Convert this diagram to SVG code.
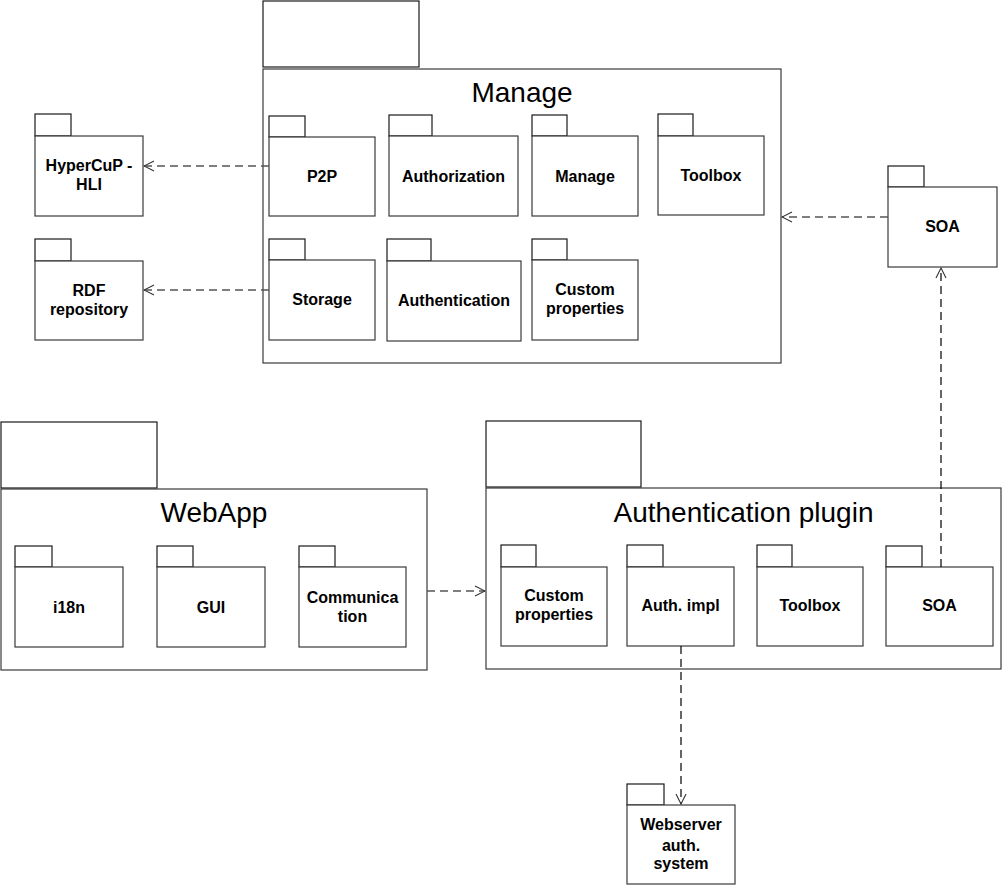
<svg xmlns="http://www.w3.org/2000/svg" width="1006" height="886" viewBox="0 0 1006 886">
<defs>
<style>
.box{fill:#fff;stroke:#3a3a3a;stroke-width:1.2}
.tab{fill:#fff;stroke:#1a1a1a;stroke-width:1.2}
.lbl{font-family:"Liberation Sans",Arial,sans-serif;font-weight:bold;font-size:16px;fill:#000;text-anchor:middle}
.ttl{font-family:"Liberation Sans",Arial,sans-serif;font-size:28px;fill:#000;text-anchor:middle}
.dep{fill:none;stroke:#555;stroke-width:1.3;stroke-dasharray:8 5}
.depv{fill:none;stroke:#000;stroke-width:1.2;stroke-dasharray:8 5}
</style>
<marker id="open" viewBox="0 0 12 12" refX="11" refY="6" markerWidth="12" markerHeight="12" markerUnits="userSpaceOnUse" orient="auto">
<path d="M1,1 L11,6 L1,11" fill="none" stroke="#333" stroke-width="1.1"/>
</marker>
</defs>
<rect width="1006" height="886" fill="#fff"/>

<g id="pkg-manage">
<rect class="tab" x="263" y="1" width="156" height="66"/>
<rect class="box" x="263" y="69" width="518" height="294"/>
<text class="ttl" x="522" y="102">Manage</text>
</g>
<g id="p2p"><rect class="tab" x="269" y="116" width="36" height="21"/><rect class="box" x="269" y="137" width="106" height="79"/><text class="lbl" x="322" y="181.5">P2P</text></g>
<g id="authorization"><rect class="tab" x="389" y="115" width="43" height="21"/><rect class="box" x="389" y="136" width="129" height="80"/><text class="lbl" x="453.5" y="181.5">Authorization</text></g>
<g id="manage-inner"><rect class="tab" x="532" y="115" width="35" height="21"/><rect class="box" x="532" y="136" width="106" height="80"/><text class="lbl" x="585" y="181.5">Manage</text></g>
<g id="toolbox-m"><rect class="tab" x="658" y="114" width="35" height="22"/><rect class="box" x="658" y="136" width="106" height="79"/><text class="lbl" x="711" y="180.5">Toolbox</text></g>
<g id="storage"><rect class="tab" x="269" y="239" width="36" height="21"/><rect class="box" x="269" y="260" width="106" height="80"/><text class="lbl" x="322" y="305">Storage</text></g>
<g id="authentication"><rect class="tab" x="387" y="239" width="44" height="22"/><rect class="box" x="387" y="261" width="134" height="80"/><text class="lbl" x="454" y="305.5">Authentication</text></g>
<g id="custom-m"><rect class="tab" x="532" y="239" width="35" height="21"/><rect class="box" x="532" y="260" width="106" height="80"/><text class="lbl" x="585" y="295">Custom</text><text class="lbl" x="585" y="314">properties</text></g>

<g id="hypercup"><rect class="tab" x="35" y="114" width="36" height="22"/><rect class="box" x="35" y="136" width="108" height="80"/><text class="lbl" x="89" y="171">HyperCuP -</text><text class="lbl" x="89" y="190">HLI</text></g>
<g id="rdf"><rect class="tab" x="35" y="239" width="36" height="22"/><rect class="box" x="35" y="261" width="108" height="79"/><text class="lbl" x="89" y="295.5">RDF</text><text class="lbl" x="89" y="314.5">repository</text></g>

<g id="soa-ext"><rect class="tab" x="888" y="166" width="36" height="21"/><rect class="box" x="888" y="187" width="109" height="80"/><text class="lbl" x="942.5" y="232">SOA</text></g>

<g id="pkg-webapp">
<rect class="tab" x="1" y="422" width="156" height="66"/>
<rect class="box" x="1" y="489" width="426" height="181"/>
<text class="ttl" x="214" y="522">WebApp</text>
</g>
<g id="i18n"><rect class="tab" x="15" y="546" width="37" height="21"/><rect class="box" x="15" y="567" width="108" height="80"/><text class="lbl" x="69" y="613">i18n</text></g>
<g id="gui"><rect class="tab" x="157" y="546" width="36" height="21"/><rect class="box" x="157" y="567" width="108" height="80"/><text class="lbl" x="211" y="613">GUI</text></g>
<g id="communication"><rect class="tab" x="299" y="546" width="36" height="21"/><rect class="box" x="299" y="567" width="107" height="80"/><text class="lbl" x="352.5" y="603">Communica</text><text class="lbl" x="352.5" y="622">tion</text></g>

<g id="pkg-authplugin">
<rect class="tab" x="486" y="421" width="155" height="66"/>
<rect class="box" x="486" y="488" width="515" height="181"/>
<text class="ttl" x="743.5" y="522">Authentication plugin</text>
</g>
<g id="custom-p"><rect class="tab" x="501" y="545" width="35" height="22"/><rect class="box" x="501" y="567" width="106" height="79"/><text class="lbl" x="554" y="601">Custom</text><text class="lbl" x="554" y="620">properties</text></g>
<g id="authimpl"><rect class="tab" x="627" y="545" width="36" height="22"/><rect class="box" x="627" y="567" width="107" height="79"/><text class="lbl" x="680.5" y="611">Auth. impl</text></g>
<g id="toolbox-p"><rect class="tab" x="757" y="545" width="35" height="22"/><rect class="box" x="757" y="567" width="106" height="79"/><text class="lbl" x="810" y="611">Toolbox</text></g>
<g id="soa-p"><rect class="tab" x="886" y="546" width="36" height="21"/><rect class="box" x="886" y="567" width="107" height="79"/><text class="lbl" x="939.5" y="611">SOA</text></g>

<g id="webserver"><rect class="tab" x="627" y="784" width="37" height="21"/><rect class="box" x="627" y="805" width="108" height="79"/><text class="lbl" x="681" y="830">Webserver</text><text class="lbl" x="681" y="851">auth.</text><text class="lbl" x="681" y="869">system</text></g>

<g id="connectors">
<path class="dep" d="M269,166 L144,166" marker-end="url(#open)"/>
<path class="dep" d="M269,290 L144,290" marker-end="url(#open)"/>
<path class="dep" d="M888,217 L782,217" marker-end="url(#open)"/>
<path class="depv" d="M941,567 L941,268" marker-end="url(#open)"/>
<path class="dep" d="M427,591 L485,591" marker-end="url(#open)"/>
<path class="depv" d="M681,646 L681,804" marker-end="url(#open)"/>
</g>
</svg>
